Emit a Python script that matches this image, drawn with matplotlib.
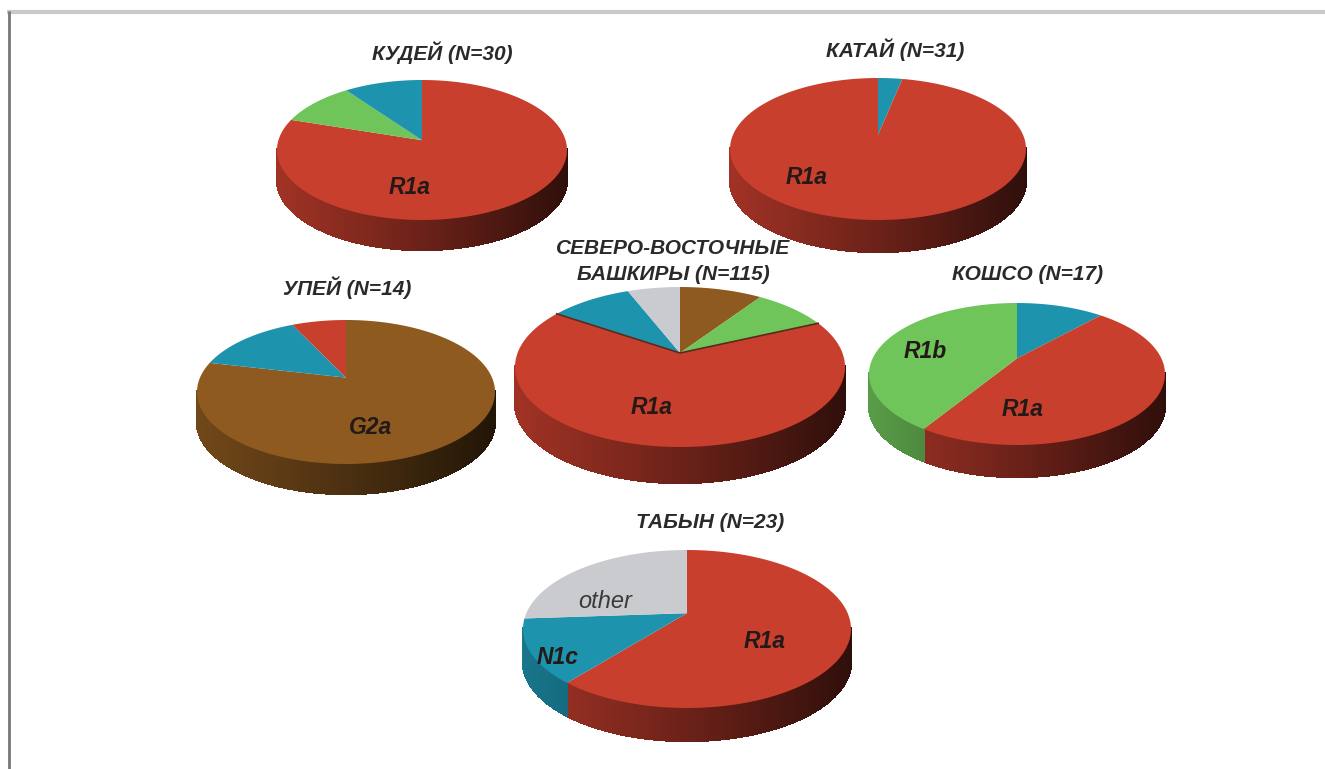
import numpy as np
import matplotlib
matplotlib.use('Agg')
import matplotlib.pyplot as plt
from matplotlib.collections import PolyCollection
from matplotlib.path import Path
from matplotlib.transforms import Affine2D, Transform

plt.rcParams['font.family'] = ['Liberation Sans', 'DejaVu Sans']

# ── Data ────────────────────────────────────────────────────────────────────
kudei_groups = ['R1a', 'R1b', 'N1c']
kudei_values = [24, 3, 3]
katai_groups = ['N1c', 'R1a']
katai_values = [1, 30]
upei_groups = ['G2a', 'N1c', 'R1a']
upei_values = [11, 2, 1]
north_groups = ['G2a', 'R1b', 'R1a', 'N1c', 'other']
north_values = [11, 10, 76, 11, 7]
koshso_groups = ['N1c', 'R1a', 'R1b']
koshso_values = [2, 8, 7]
tabyn_groups = ['R1a', 'N1c', 'other']
tabyn_values = [14, 3, 6]

colors = {'R1a': '#C93F2E', 'R1b': '#6FC45A', 'N1c': '#1E93AE',
          'G2a': '#8E5A1F', 'other': '#C9CBCF'}


# ── Perspective of a tilted disc ────────────────────────────────────────────
class TiltTransform(Transform):
    """Map the unit disc on an ellipse, with its centre pushed up by `a`."""
    input_dims = output_dims = 2
    is_separable = False
    has_inverse = False

    def __init__(self, cx, cy, rx, ry, a):
        super().__init__()
        self.cx, self.cy, self.rx, self.ry, self.a = cx, cy, rx, ry, a

    def transform_non_affine(self, values):
        values = np.asarray(values, dtype=float)
        x, y = values[:, 0], values[:, 1]
        d = 1 + self.a * y
        xt = x * np.sqrt(1 - self.a ** 2) / d
        yt = (y + self.a) / d
        return np.column_stack([self.cx + self.rx * xt, self.cy - self.ry * yt])

    def transform_path_non_affine(self, path):
        # flatten the arcs first, control points do not survive a projection
        poly = path.transformed(Affine2D().scale(400)).to_polygons()[0] / 400
        return Path(self.transform_non_affine(poly), closed=True)


def shade(color, x):
    factor = np.interp(x, [-1, -0.3, 0.4, 1], [0.8, 0.62, 0.42, 0.24])
    return np.array(matplotlib.colors.to_rgb(color)) * factor


def draw_pie(ax, values, groups, cx, cy, rx, ry, depth, a, crease=False):
    tilt = TiltTransform(cx, cy, rx, ry, a)
    wedges, _ = ax.pie(values, colors=[colors[g] for g in groups],
                       startangle=90, counterclock=False, radius=1,
                       wedgeprops={'linewidth': 0, 'zorder': 3})
    for wedge, group in zip(wedges, groups):
        wedge.set_transform(tilt + ax.transData)

        # side wall, thin strips so the shading runs left to right
        angles = np.radians(np.arange(wedge.theta1, wedge.theta2, 0.4))
        angles = np.append(angles, np.radians(wedge.theta2))
        rim = tilt.transform_non_affine(np.column_stack([np.cos(angles), np.sin(angles)]))
        polys, strip_colors = [], []
        for p, q in zip(rim[:-1], rim[1:]):
            if max(p[1], q[1]) < cy - 0.5:
                continue
            polys.append([p, q, q + [0, depth], p + [0, depth]])
            strip_colors.append(shade(colors[group], ((p[0] + q[0]) / 2 - cx) / rx))
        if polys:
            ax.add_collection(PolyCollection(polys, facecolors=strip_colors,
                                             edgecolors=strip_colors,
                                             linewidths=1.0, antialiaseds=False,
                                             zorder=2))

        # the big slice of the centre pie throws a dark line on its neighbours
        if crease and group == 'R1a':
            ends = tilt.transform_non_affine([[np.cos(rim_a), np.sin(rim_a)] for rim_a in (angles[0], angles[-1])])
            apex = tilt.transform_non_affine([[0, 0]])
            line = np.vstack([ends[0], apex, ends[1]])
            ax.plot(line[:, 0], line[:, 1], color='#5b2a1c', lw=1.2, zorder=4)


# ── Figure ──────────────────────────────────────────────────────────────────
fig = plt.figure(figsize=(13.25, 7.69), dpi=100)
ax = fig.add_axes([0, 0, 1, 1])

draw_pie(ax, kudei_values, kudei_groups, 422, 150, 145, 70, 30, 0.14)
draw_pie(ax, katai_values, katai_groups, 878, 149, 148, 71, 32, 0.2)
draw_pie(ax, upei_values, upei_groups, 346, 392, 149, 72, 30, 0.2)
draw_pie(ax, north_values, north_groups, 680, 367, 165, 80, 36, 0.175, crease=True)
draw_pie(ax, koshso_values, koshso_groups, 1017, 374, 148, 71, 32, 0.22)
draw_pie(ax, tabyn_values, tabyn_groups, 687, 629, 164, 79, 33, 0.2)

ax.set_aspect('auto')
ax.set_xlim(0, 1325)
ax.set_ylim(769, 0)
ax.axis('off')

# frame of the original page
ax.plot([7, 1325], [12, 12], color='#c9c9c9', lw=3, zorder=1, solid_capstyle='butt')
ax.plot([8.5, 8.5], [11, 769], color='#777777', lw=2, zorder=1, solid_capstyle='butt')

title_style = dict(fontsize=15, fontweight='bold', fontstyle='italic',
                   color='#2a2a2a', ha='center', va='center', zorder=5)
ax.text(442, 53, 'КУДЕЙ (N=30)', **title_style)
ax.text(895, 50, 'КАТАЙ (N=31)', **title_style)
ax.text(347, 288, 'УПЕЙ (N=14)', **title_style)
ax.text(673, 248, 'СЕВЕРО-ВОСТОЧНЫЕ', **title_style)
ax.text(673, 275, 'БАШКИРЫ (N=115)', **title_style)
ax.text(1028, 275, 'КОШСО (N=17)', **title_style)
ax.text(710, 522, 'ТАБЫН (N=23)', **title_style)

label_style = dict(fontsize=16.5, fontweight='bold', fontstyle='italic',
                   color='#231a18', ha='center', va='center', zorder=5)
ax.text(410, 187, 'R1a', **label_style)
ax.text(807, 178, 'R1a', **label_style)
ax.text(370, 427, 'G2a', **label_style)
ax.text(652, 408, 'R1a', **label_style)
ax.text(925, 352, 'R1b', **label_style)
ax.text(1023, 410, 'R1a', **label_style)
ax.text(765, 642, 'R1a', **label_style)
ax.text(558, 658, 'N1c', **label_style)
ax.text(605, 602, 'other', fontsize=17, fontstyle='italic', color='#3a3a3a',
        ha='center', va='center', zorder=5)

fig.savefig('out.png', dpi=100)
